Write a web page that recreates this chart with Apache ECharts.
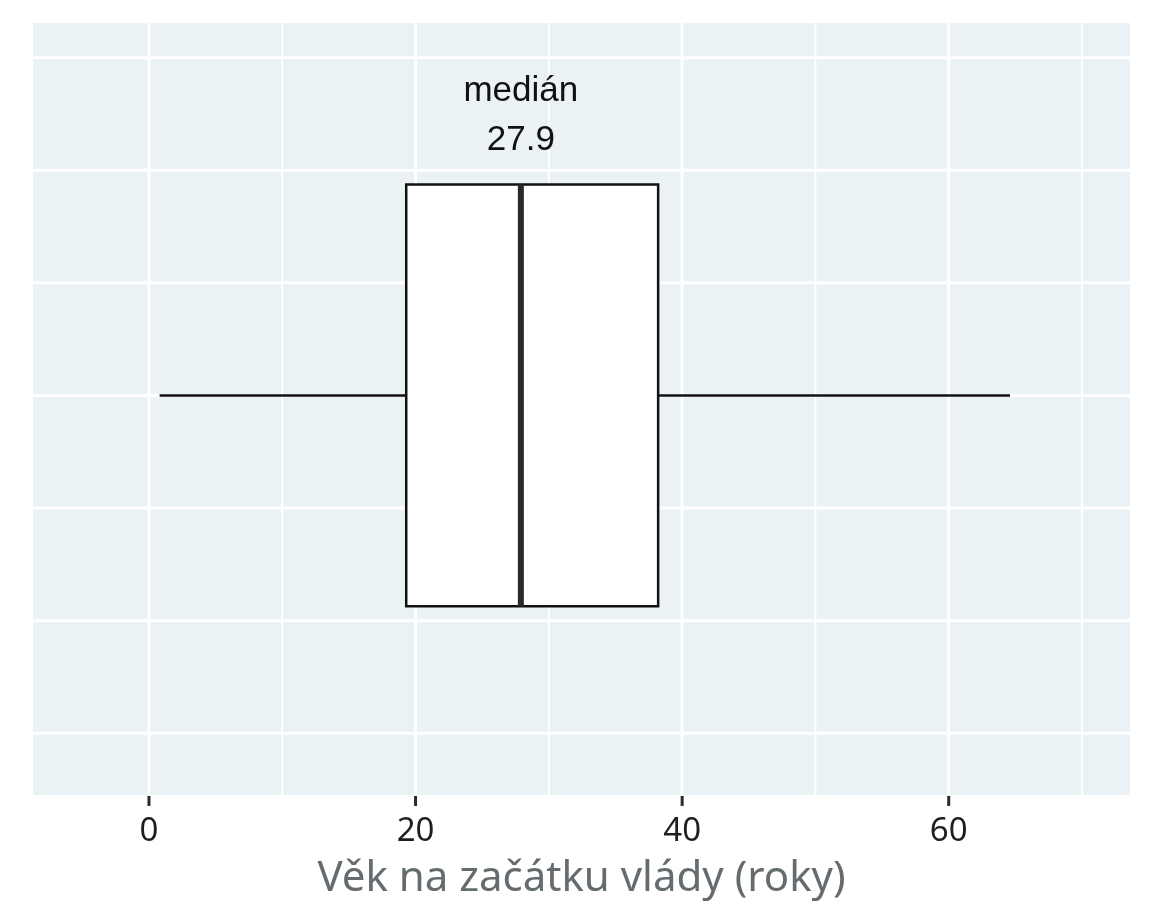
<!DOCTYPE html>
<html>
<head>
<meta charset="utf-8">
<script src="https://cdn.jsdelivr.net/npm/echarts@6/dist/echarts.min.js"></script>
<style>
html,body{margin:0;padding:0;background:#fff;}
#chart{width:1152px;height:922px;}
</style>
</head>
<body>
<div id="chart"></div>
<script>
// ---- data ----
const boxStats = [0.8, 19.3, 27.9, 38.2, 64.6]; // lower whisker, Q1, median, Q3, upper whisker
const medianLabel = 'medián';
const xTickValues = [0, 20, 40, 60];
const xMinorValues = [10, 30, 50, 70];
const yGridValues = [-3, -2, -1, 0, 1, 2, 3];
const xTitle = 'Věk na začátku vlády (roky)';

// ---- chart ----
const chart = echarts.init(document.getElementById('chart'));
const BOX_HALF = 1.873;
const PANEL_BOTTOM = -3.548;   // y value where the grey panel ends
const Y_MIN = -3.664, Y_MAX = 3.308;

function panelBottomPx(api) { return api.coord([0, PANEL_BOTTOM])[1]; }

function vGrid(width, withTick) {
  return function (params, api) {
    const cs = params.coordSys;
    const x = api.coord([api.value(0), 0])[0];
    const bottom = panelBottomPx(api);
    const children = [{type: 'line', shape: {x1: x, y1: cs.y, x2: x, y2: bottom},
      style: {stroke: '#ffffff', lineWidth: width}}];
    if (withTick) {
      children.push({type: 'line', shape: {x1: x, y1: bottom + 1, x2: x, y2: bottom + 11},
        style: {stroke: '#2a2a2a', lineWidth: 3}});
    }
    return {type: 'group', children: children};
  };
}

const option = {
  animation: false,
  grid: {left: 33, right: 22, top: 23, bottom: 114, show: false, containLabel: false},
  xAxis: {
    type: 'value', min: -8.7, max: 73.6,
    splitLine: {show: false},
    axisLine: {show: false, onZero: false},
    axisTick: {show: false},
    axisLabel: {customValues: xTickValues, fontSize: 33, color: '#1f1f1f',
      fontFamily: 'Noto Sans', margin: 7},
    name: xTitle, nameLocation: 'middle', nameGap: 50,
    nameTextStyle: {fontSize: 42, color: '#656c70', fontFamily: 'Noto Sans'}
  },
  yAxis: {
    type: 'value', min: Y_MIN, max: Y_MAX,
    show: false, splitLine: {show: false}
  },
  series: [
    {type: 'custom', silent: true, z: 0, data: [[0]], encode: {x: 0},
      renderItem: function (params, api) {
        const cs = params.coordSys;
        return {type: 'rect', shape: {x: cs.x, y: cs.y, width: cs.width,
          height: panelBottomPx(api) - cs.y}, style: {fill: '#EAF2F5'}};
      }},
    {type: 'custom', silent: true, z: 1, data: xMinorValues.map(v => [v]),
      encode: {x: 0}, renderItem: vGrid(2, false)},
    {type: 'custom', silent: true, z: 1, data: xTickValues.map(v => [v]),
      encode: {x: 0}, renderItem: vGrid(3, true)},
    {type: 'custom', silent: true, z: 1, data: yGridValues.map(v => [v]),
      encode: {y: 0}, renderItem: function (params, api) {
        const cs = params.coordSys;
        const y = api.coord([0, api.value(0)])[1];
        return {type: 'line', shape: {x1: cs.x, y1: y, x2: cs.x + cs.width, y2: y},
          style: {stroke: '#ffffff', lineWidth: 3}};
      }},
    {type: 'custom', z: 5, data: [boxStats], encode: {x: [0, 1, 2, 3, 4]},
      renderItem: function (params, api) {
        const lo = api.value(0), q1 = api.value(1), med = api.value(2),
              q3 = api.value(3), hi = api.value(4);
        const pLo = api.coord([lo, 0]);
        const pHi = api.coord([hi, 0]);
        const tl = api.coord([q1, BOX_HALF]);
        const br = api.coord([q3, -BOX_HALF]);
        const mT = api.coord([med, BOX_HALF]);
        const mB = api.coord([med, -BOX_HALF]);
        const lineStyle = {stroke: '#111111', lineWidth: 2.5};
        return {type: 'group', children: [
          {type: 'line', shape: {x1: pLo[0], y1: pLo[1], x2: tl[0], y2: pLo[1]}, style: lineStyle},
          {type: 'line', shape: {x1: br[0], y1: pHi[1], x2: pHi[0], y2: pHi[1]}, style: lineStyle},
          {type: 'rect', shape: {x: tl[0], y: tl[1], width: br[0] - tl[0], height: br[1] - tl[1]},
            style: {fill: '#ffffff', stroke: '#111111', lineWidth: 2.5}},
          {type: 'line', shape: {x1: mT[0], y1: mT[1], x2: mB[0], y2: mB[1]},
            style: {stroke: '#2a2a2a', lineWidth: 6}},
          {type: 'text', x: mT[0], y: mT[1] - 93,
            style: {text: medianLabel, fontSize: 35, fontFamily: 'Liberation Sans',
              fill: '#111111', align: 'center', verticalAlign: 'middle'}},
          {type: 'text', x: mT[0], y: mT[1] - 44,
            style: {text: med.toFixed(1), fontSize: 35, fontFamily: 'Liberation Sans',
              fill: '#111111', align: 'center', verticalAlign: 'middle'}}
        ]};
      }}
  ]
};
chart.setOption(option);
</script>
</body>
</html>
